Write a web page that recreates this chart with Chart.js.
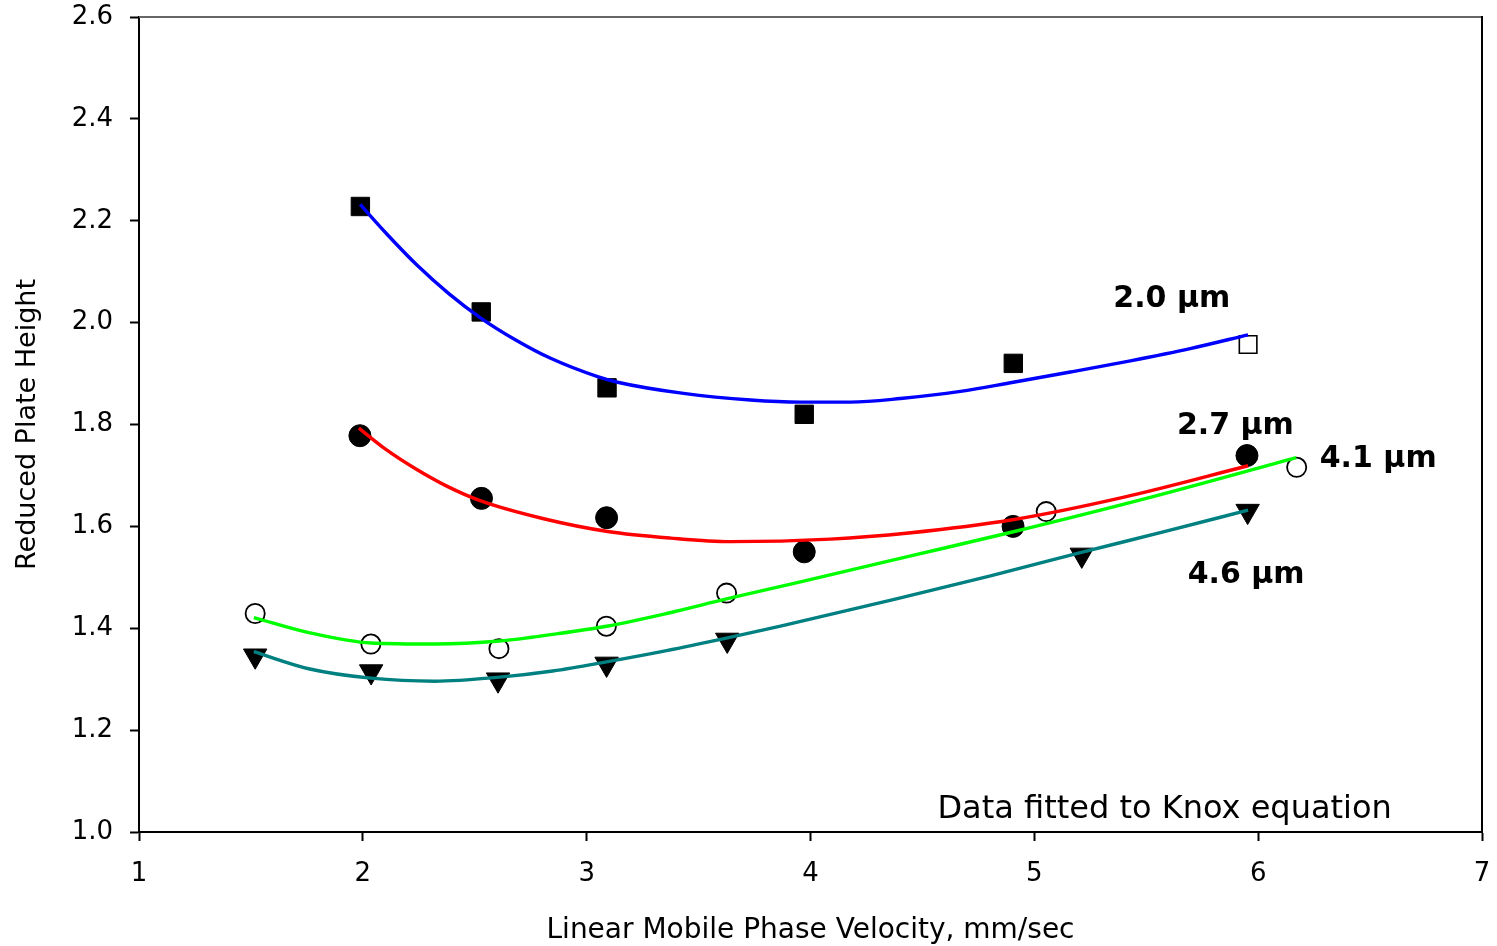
<!DOCTYPE html>
<html><head><meta charset="utf-8">
<script src="https://cdn.jsdelivr.net/npm/chart.js@4.4.1/dist/chart.umd.min.js"></script>
<style>html,body{margin:0;padding:0;background:#fff;overflow:hidden}#wrap{width:1497px;height:946px}</style>
</head><body><div id="wrap"><canvas id="c" width="1497" height="946"></canvas></div>
<script>
// ---- axis ticks ----
const xTicks = [1, 2, 3, 4, 5, 6, 7];
const xTickLabels = ['1', '2', '3', '4', '5', '6', '7'];
const yTicks = [1.0, 1.2, 1.4, 1.6, 1.8, 2.0, 2.2, 2.4, 2.6];
const yTickLabels = ['1.0', '1.2', '1.4', '1.6', '1.8', '2.0', '2.2', '2.4', '2.6'];

// ---- measured points ----
const v20 = [1.989, 2.529, 3.091, 3.972, 4.906, 5.955];
const h20 = [2.228, 2.021, 1.872, 1.820, 1.920, 1.957];
const v27 = [1.987, 2.530, 3.089, 3.972, 4.905, 5.950];
const h27 = [1.778, 1.655, 1.617, 1.550, 1.600, 1.739];
const v41 = [1.519, 2.036, 2.608, 3.088, 3.625, 5.053, 6.172];
const h41 = [1.429, 1.369, 1.360, 1.404, 1.469, 1.629, 1.716];
const v46 = [1.519, 2.037, 2.604, 3.089, 3.628, 5.212, 5.953];
const h46 = [1.346, 1.315, 1.299, 1.330, 1.377, 1.544, 1.630];

// ---- fitted (Knox) curves ----
const fit20x = [1.988, 2.107, 2.244, 2.384, 2.527, 2.683, 2.839, 3.049, 3.138, 3.433, 3.732, 3.955, 4.179, 4.402, 4.670, 4.906, 5.161, 5.429, 5.696, 5.955];
const fit20y = [2.232, 2.174, 2.112, 2.057, 2.009, 1.966, 1.930, 1.894, 1.883, 1.861, 1.848, 1.844, 1.844, 1.851, 1.865, 1.883, 1.903, 1.925, 1.949, 1.976];
const fit27x = [1.982, 2.103, 2.228, 2.375, 2.527, 2.808, 3.094, 3.375, 3.643, 4.089, 4.438, 4.902, 5.406, 5.955];
const fit27y = [1.793, 1.751, 1.715, 1.679, 1.650, 1.615, 1.590, 1.577, 1.570, 1.575, 1.587, 1.613, 1.658, 1.719];
const fit41x = [1.513, 1.763, 2.036, 2.321, 2.612, 2.848, 3.089, 3.357, 3.629, 3.955, 4.438, 4.902, 5.500, 6.170];
const fit41y = [1.421, 1.391, 1.371, 1.369, 1.375, 1.388, 1.404, 1.429, 1.458, 1.491, 1.541, 1.589, 1.655, 1.735];
const fit46x = [1.513, 1.763, 2.036, 2.321, 2.612, 2.848, 3.089, 3.357, 3.629, 3.866, 4.379, 4.804, 5.210, 5.585, 5.955];
const fit46y = [1.354, 1.320, 1.302, 1.296, 1.304, 1.316, 1.334, 1.356, 1.381, 1.404, 1.457, 1.503, 1.549, 1.590, 1.632];

// ---- text labels ----
const seriesLabels = ['2.0 µm', '2.7 µm', '4.1 µm', '4.6 µm'];
const noteText = 'Data fitted to Knox equation';

const pts = (xs, ys) => xs.map((x, i) => ({x, y: ys[i]}));

const FONT = '"DejaVu Sans", "Liberation Sans", Arial, sans-serif';
Chart.defaults.color = '#000';
Chart.defaults.font.family = FONT;

// annotation anchor positions (data coords of text start / baseline)
const labelAnchors = [
  {t: seriesLabels[0], x: 5.353, y: 2.031, bold: true},
  {t: seriesLabels[1], x: 5.637, y: 1.781, bold: true},
  {t: seriesLabels[2], x: 6.275, y: 1.717, bold: true},
  {t: seriesLabels[3], x: 5.685, y: 1.489, bold: true},
  {t: noteText, x: 4.567, y: 1.027, bold: false}
];

const framePlugin = {
  id: 'frame',
  beforeDatasetsDraw(chart) {
    const {ctx, chartArea: a} = chart;
    ctx.save();
    ctx.strokeStyle = '#666';
    ctx.lineWidth = 2;
    ctx.beginPath(); ctx.moveTo(a.left, a.top); ctx.lineTo(a.right, a.top); ctx.stroke();
    ctx.strokeStyle = '#000';
    ctx.beginPath(); ctx.moveTo(a.right, a.top - 1); ctx.lineTo(a.right, a.bottom); ctx.stroke();
    ctx.restore();
  },
  afterDatasetsDraw(chart) {
    const {ctx, scales} = chart;
    ctx.save();
    ctx.fillStyle = '#000';
    ctx.textAlign = 'left';
    ctx.textBaseline = 'alphabetic';
    labelAnchors.forEach(l => {
      ctx.font = l.bold ? ('bold 30px ' + FONT) : ('32px ' + FONT);
      ctx.fillText(l.t, scales.x.getPixelForValue(l.x), scales.y.getPixelForValue(l.y));
    });
    ctx.restore();
  }
};

const curve = (xs, ys, color) => ({
  type: 'scatter', data: pts(xs, ys), showLine: true, borderColor: color,
  borderWidth: 3.4, pointRadius: 0, cubicInterpolationMode: 'monotone', fill: false, order: 0
});

new Chart(document.getElementById('c'), {
  type: 'scatter',
  data: {
    datasets: [
      curve(fit20x, fit20y, '#0000ff'),
      curve(fit27x, fit27y, '#ff0000'),
      curve(fit41x, fit41y, '#00ff00'),
      curve(fit46x, fit46y, '#008080'),
      {
        label: seriesLabels[0], data: pts(v20, h20), order: 1,
        pointStyle: 'rect',
        pointRadius: ctx => ctx.dataIndex === v20.length - 1 ? 12.4 : 13,
        pointBackgroundColor: ctx => ctx.dataIndex === v20.length - 1 ? '#fff' : '#000',
        pointBorderColor: '#000',
        pointBorderWidth: ctx => ctx.dataIndex === v20.length - 1 ? 1.6 : 1
      },
      {
        label: seriesLabels[1], data: pts(v27, h27), order: 1,
        pointStyle: 'circle', pointRadius: 11, pointBackgroundColor: '#000',
        pointBorderColor: '#000', pointBorderWidth: 1
      },
      {
        label: seriesLabels[2], data: pts(v41, h41), order: 1,
        pointStyle: 'circle', pointRadius: 9.6, pointBackgroundColor: '#fff',
        pointBorderColor: '#000', pointBorderWidth: 1.8
      },
      {
        label: seriesLabels[3], data: pts(v46, h46), order: 1,
        pointStyle: 'triangle', pointRotation: 180, pointRadius: 13.5,
        pointBackgroundColor: '#000', pointBorderColor: '#000', pointBorderWidth: 1
      }
    ]
  },
  options: {
    responsive: false,
    animation: false,
    devicePixelRatio: 1,
    layout: {padding: {left: 0, top: 17, right: 15, bottom: 0}},
    plugins: {legend: {display: false}, tooltip: {enabled: false}},
    scales: {
      x: {
        type: 'linear', min: 1, max: 7,
        afterBuildTicks: s => { s.ticks = xTicks.map(v => ({value: v})); },
        afterFit: s => { s.height = 114; s.paddingLeft = 0; s.paddingRight = 0; },
        ticks: {
          callback: (v, i) => xTickLabels[i],
          font: {size: 26, family: FONT}, color: '#000', padding: 18, maxRotation: 0
        },
        grid: {display: true, drawOnChartArea: false, drawTicks: true, tickLength: 9, tickWidth: 2, tickColor: '#000'},
        border: {display: true, color: '#000', width: 2},
        title: {
          display: true, text: 'Linear Mobile Phase Velocity, mm/sec',
          font: {size: 28, family: FONT, lineHeight: 1.1}, color: '#000', padding: {top: 0, bottom: 0}
        }
      },
      y: {
        type: 'linear', min: 1.0, max: 2.6,
        afterBuildTicks: s => { s.ticks = yTicks.map(v => ({value: v})); },
        afterFit: s => { s.width = 139; s.paddingTop = 0; s.paddingBottom = 0; },
        ticks: {
          callback: (v, i) => yTickLabels[i],
          font: {size: 26, family: FONT}, color: '#000', padding: 17
        },
        grid: {display: true, drawOnChartArea: false, drawTicks: true, tickLength: 9, tickWidth: 2, tickColor: '#000'},
        border: {display: true, color: '#000', width: 2},
        title: {
          display: true, text: 'Reduced Plate Height',
          font: {size: 27, family: FONT, lineHeight: 1.1}, color: '#000', padding: {top: 13, bottom: 0}
        }
      }
    }
  },
  plugins: [framePlugin]
});
</script>
</body></html>
